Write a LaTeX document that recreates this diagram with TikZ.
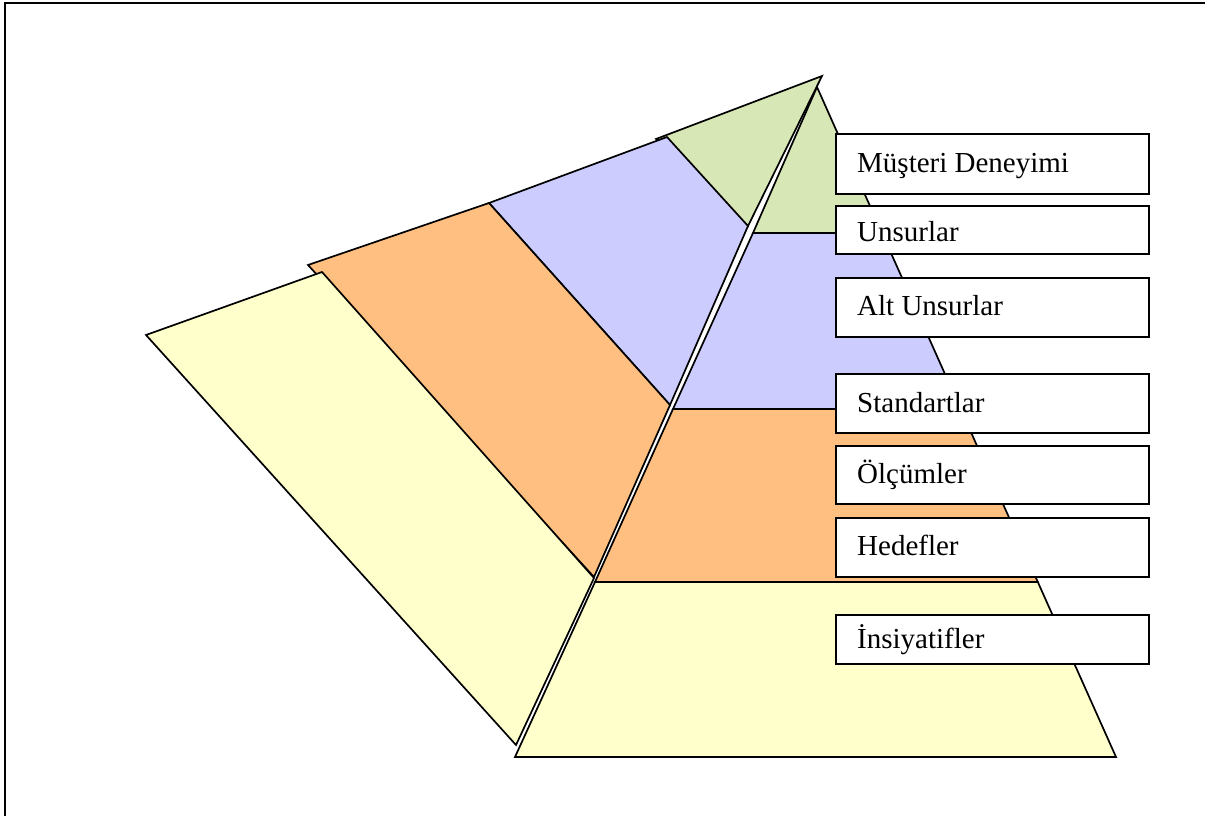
\documentclass[tikz,border=0pt]{standalone}
\usepackage{fontspec}
\setmainfont{Liberation Serif}
\definecolor{tiergreen}{RGB}{215,231,181}
\definecolor{tierblue}{RGB}{204,204,255}
\definecolor{tierorange}{RGB}{255,191,128}
\definecolor{tieryellow}{RGB}{255,255,204}
\tikzset{
  face/.style={draw=black, line width=1.7pt, line join=miter},
  box/.style={draw=black, fill=white, line width=1.9pt, minimum width=313pt, inner sep=0pt, anchor=north west},
  boxtext/.style={anchor=base west, inner sep=0pt, font=\fontsize{29}{34}\selectfont}
}
\begin{document}
\begin{tikzpicture}[x=1pt,y=-1pt]
\useasboundingbox (0,0) rectangle (1205,816);

% outer frame (left and top rules)
\draw[line width=2.6pt] (5,816) -- (5,3) -- (1205,3);

% unfolded side panels
\draw[face, fill=tiergreen]  (656,139) -- (822,76) -- (748,226) -- cycle;
\draw[face, fill=tierblue]   (489,203) -- (667,137) -- (748,226) -- (670,405) -- cycle;
\draw[face, fill=tierorange] (308,265) -- (489,203) -- (670,405) -- (594,577) -- cycle;
\draw[face, fill=tieryellow] (146,335) -- (322,272) -- (594,578) -- (516,745) -- cycle;

% front pyramid tiers
\coordinate (apex) at (817,87);
\draw[face, fill=tiergreen]  (apex) -- (882,233) -- (753,233) -- cycle;
\draw[face, fill=tierblue]   (753,233) -- (882,233) -- (960.6,409) -- (673,409) -- cycle;
\draw[face, fill=tierorange] (673,409) -- (960.6,409) -- (1037.8,582) -- (595,582) -- cycle;
\draw[face, fill=tieryellow] (595,582) -- (1037.8,582) -- (1116,757) -- (515,757) -- cycle;

% label boxes
\node[box, minimum height=60pt] (b1) at (835,133) {};
\node[box, minimum height=48pt] (b2) at (835,205) {};
\node[box, minimum height=59pt] (b3) at (835,277) {};
\node[box, minimum height=59pt] (b4) at (835,373) {};
\node[box, minimum height=58pt] (b5) at (835,445) {};
\node[box, minimum height=59pt] (b6) at (835,517) {};
\node[box, minimum height=49pt] (b7) at (835,614) {};

\node[boxtext] (t1) at (857,172) {Müşteri Deneyimi};
\node[boxtext] (t2) at (857,241) {Unsurlar};
\node[boxtext] (t3) at (857,315) {Alt Unsurlar};
\node[boxtext] (t4) at (857,412) {Standartlar};
\node[boxtext] (t5) at (857,483) {Ölçümler};
\node[boxtext] (t6) at (857,555) {Hedefler};
\node[boxtext] (t7) at (857,648) {İnsiyatifler};
\end{tikzpicture}
\end{document}
